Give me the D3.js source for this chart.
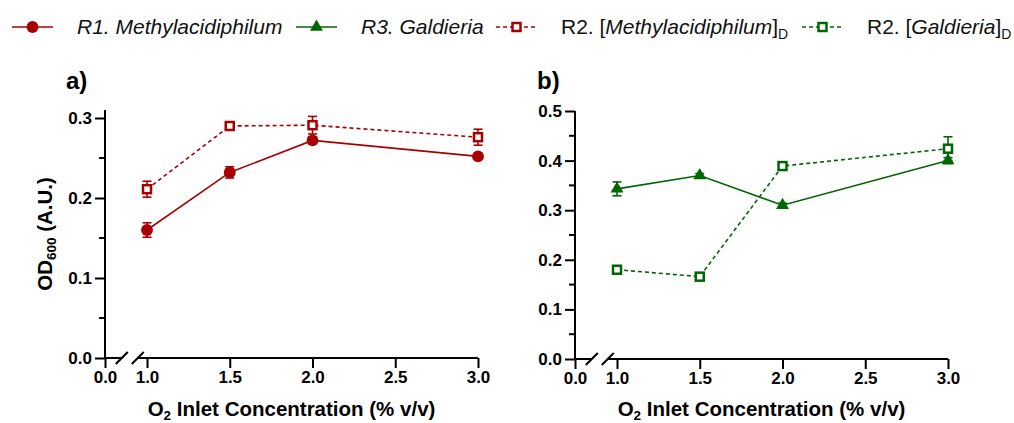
<!DOCTYPE html>
<html>
<head>
<meta charset="utf-8">
<script src="https://cdn.jsdelivr.net/npm/d3@7"></script>
<style>
  html, body { margin: 0; padding: 0; background: #fff; }
  svg { display: block; font-family: "Liberation Sans", Arial, sans-serif; }
</style>
</head>
<body>
<svg id="chart" width="1014" height="423"></svg>
<script>
// O2 inlet concentrations (% v/v)
const o2Levels = [1.0, 1.5, 2.0, 3.0];

// Panel a: Methylacidiphilum
const methylR1 = [0.160, 0.232, 0.272, 0.252];
const methylR1Err = [0.009, 0.007, 0.004, 0.003];
const methylR2 = [0.211, 0.290, 0.291, 0.276];
const methylR2Err = [0.010, 0.003, 0.011, 0.010];

// Panel b: Galdieria
const galdR3 = [0.343, 0.370, 0.310, 0.400];
const galdR3Err = [0.014, 0.004, 0.004, 0.006];
const galdR2 = [0.180, 0.166, 0.389, 0.424];
const galdR2Err = [0.006, 0.004, 0.008, 0.024];

// Axis ticks
const xTicks = [0.0, 1.0, 1.5, 2.0, 2.5, 3.0];
const yTicksA = [0.0, 0.1, 0.2, 0.3];
const yMinorA = [0.05, 0.15, 0.25];
const yTicksB = [0.0, 0.1, 0.2, 0.3, 0.4, 0.5];
const yMinorB = [0.05, 0.15, 0.25, 0.35, 0.45];

const RED = "#a80000";
const GREEN = "#006600";
const FONT = "'Liberation Sans', Arial, sans-serif";

const svg = d3.select("#chart");
svg.append("rect").attr("width", 1014).attr("height", 423).attr("fill", "#fff");

function marker(g, kind, color, x, y) {
  if (kind === "circle") {
    g.append("path").attr("d", d3.symbol(d3.symbolCircle, 110)())
      .attr("transform", `translate(${x},${y})`).attr("fill", color);
  } else if (kind === "triangle") {
    g.append("path").attr("d", d3.symbol(d3.symbolTriangle, 72)())
      .attr("transform", `translate(${x},${y})`).attr("fill", color);
  } else {
    g.append("rect").attr("x", x - 4).attr("y", y - 4)
      .attr("width", 8).attr("height", 8)
      .attr("fill", "#fff").attr("stroke", color).attr("stroke-width", 2.5);
  }
}

function drawPanel(opt) {
  const g = svg.append("g").attr("transform", `translate(${opt.left},0)`);
  const x = d3.scaleLinear().domain([0, 1, 3]).range([0, 42, 373]);
  const y = d3.scaleLinear().domain([0, opt.yMax]).range([opt.bottom, opt.top]);

  // y axis
  const yAxis = g.append("g")
    .call(d3.axisLeft(y).tickValues(opt.yTicks).tickSize(10).tickPadding(3)
      .tickFormat(d3.format(".1f")));
  yAxis.select(".domain").remove();
  yAxis.selectAll(".tick line").attr("stroke", "#000").attr("stroke-width", 2);
  yAxis.selectAll(".tick text").attr("font-family", FONT).attr("font-size", 17)
    .attr("font-weight", "bold").attr("fill", "#000");
  g.append("g").selectAll("line").data(opt.yMinor).join("line")
    .attr("x1", -6).attr("x2", 0).attr("y1", d => y(d)).attr("y2", d => y(d))
    .attr("stroke", "#000").attr("stroke-width", 2);
  g.append("line").attr("x1", 0).attr("x2", 0)
    .attr("y1", y(opt.yMax)).attr("y2", y(0)).attr("stroke", "#000").attr("stroke-width", 2);

  // x axis with a break between 0 and 1
  const xAxis = g.append("g").attr("transform", `translate(0,${y(0)})`)
    .call(d3.axisBottom(x).tickValues(xTicks).tickSize(10).tickPadding(3)
      .tickFormat(d3.format(".1f")));
  xAxis.select(".domain").remove();
  xAxis.selectAll(".tick line").attr("stroke", "#000").attr("stroke-width", 2);
  xAxis.selectAll(".tick text").attr("font-family", FONT).attr("font-size", 17)
    .attr("font-weight", "bold").attr("fill", "#000");
  const b1 = x(0.4), b2 = x(0.78);
  const ax = g.append("g").attr("transform", `translate(0,${y(0)})`)
    .attr("stroke", "#000").attr("stroke-width", 2).attr("fill", "none");
  ax.append("line").attr("x1", 0).attr("x2", b1).attr("y1", 0).attr("y2", 0);
  ax.append("line").attr("x1", b2).attr("x2", x(3)).attr("y1", 0).attr("y2", 0);
  [b1, b2].forEach(b => ax.append("line")
    .attr("x1", b - 6).attr("y1", 6).attr("x2", b + 6).attr("y2", -6));

  // axis titles
  const xt = g.append("text").attr("x", x(0) + (x(3) - x(0)) / 2).attr("y", 416)
    .attr("text-anchor", "middle").attr("font-family", FONT).attr("font-size", 20.5)
    .attr("font-weight", "bold").attr("fill", "#000");
  xt.append("tspan").text("O");
  xt.append("tspan").text("2").attr("font-size", 13.5).attr("dy", 4);
  xt.append("tspan").text(" Inlet Concentration (% v/v)").attr("dy", -4);

  g.append("text").attr("x", opt.labelX).attr("y", 89)
    .attr("font-family", FONT).attr("font-size", 24).attr("font-weight", "bold")
    .attr("fill", "#000").text(opt.label);

  if (opt.yTitle) {
    const yt = g.append("text")
      .attr("transform", `translate(-53,${(y(0) + y(opt.yMax)) / 2}) rotate(-90)`)
      .attr("text-anchor", "middle").attr("font-family", FONT).attr("font-size", 20.5)
      .attr("font-weight", "bold").attr("fill", "#000");
    yt.append("tspan").text("OD");
    yt.append("tspan").text("600").attr("font-size", 13.5).attr("dy", 4);
    yt.append("tspan").text(" (A.U.)").attr("dy", -4);
  }

  // series
  opt.series.forEach(s => {
    const pts = o2Levels.map((d, i) => ({ x: d, v: s.values[i], e: s.errors[i] }));
    const line = d3.line().x(d => x(d.x)).y(d => y(d.v));
    g.append("path").datum(pts).attr("d", line).attr("fill", "none")
      .attr("stroke", s.color).attr("stroke-width", 1.6)
      .attr("stroke-dasharray", s.dashed ? "4,3" : null);
    const eb = g.append("g").attr("stroke", s.color).attr("stroke-width", 1.6);
    pts.forEach(p => {
      eb.append("line").attr("x1", x(p.x)).attr("x2", x(p.x))
        .attr("y1", y(p.v - p.e)).attr("y2", y(p.v + p.e));
      [p.v - p.e, p.v + p.e].forEach(v => eb.append("line")
        .attr("x1", x(p.x) - 4.5).attr("x2", x(p.x) + 4.5)
        .attr("y1", y(v)).attr("y2", y(v)));
    });
    const mg = g.append("g");
    pts.forEach(p => marker(mg, s.marker, s.color, x(p.x), y(p.v)));
  });
}

drawPanel({
  left: 105, top: 110, bottom: 358, yMax: 0.31,
  yTicks: yTicksA, yMinor: yMinorA, label: "a)", labelX: -39, yTitle: true,
  series: [
    { values: methylR2, errors: methylR2Err, color: RED, marker: "square", dashed: true },
    { values: methylR1, errors: methylR1Err, color: RED, marker: "circle", dashed: false }
  ]
});

drawPanel({
  left: 575, top: 111, bottom: 359, yMax: 0.5,
  yTicks: yTicksB, yMinor: yMinorB, label: "b)", labelX: -38, yTitle: false,
  series: [
    { values: galdR2, errors: galdR2Err, color: GREEN, marker: "square", dashed: true },
    { values: galdR3, errors: galdR3Err, color: GREEN, marker: "triangle", dashed: false }
  ]
});

// Legend
const legendItems = [
  { parts: [["R1. Methylacidiphilum", "italic"]], color: RED, marker: "circle", dashed: false },
  { parts: [["R3. Galdieria", "italic"]], color: GREEN, marker: "triangle", dashed: false },
  { parts: [["R2. [", "normal"], ["Methylacidiphilum", "italic"], ["]", "normal"], ["D", "sub"]],
    color: RED, marker: "square", dashed: true },
  { parts: [["R2. [", "normal"], ["Galdieria", "italic"], ["]", "normal"], ["D", "sub"]],
    color: GREEN, marker: "square", dashed: true }
];
const legendStarts = [12, 296, 496, 802];

const legend = svg.append("g").attr("transform", "translate(0,27)");
legendItems.forEach((item, i) => {
  const x0 = legendStarts[i];
  const lg = legend.append("g");
  lg.append("line").attr("x1", x0).attr("x2", x0 + 41).attr("y1", 0).attr("y2", 0)
    .attr("stroke", item.color).attr("stroke-width", 1.6)
    .attr("stroke-dasharray", item.dashed ? "4,3" : null);
  marker(lg, item.marker, item.color, x0 + 20.5, 0);
  const t = lg.append("text").attr("x", x0 + 65).attr("y", 7)
    .attr("font-family", FONT).attr("font-size", 21).attr("fill", "#111");
  item.parts.forEach(([txt, style]) => {
    const sp = t.append("tspan").text(txt);
    if (style === "italic") sp.attr("font-style", "italic");
    if (style === "sub") sp.attr("font-size", 14).attr("dy", 5);
  });
});
</script>
</body>
</html>
